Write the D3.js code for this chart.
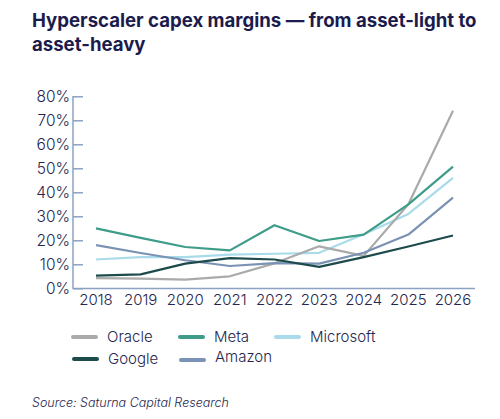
<!DOCTYPE html>
<html>
<head>
<meta charset="utf-8">
<script src="https://cdn.jsdelivr.net/npm/d3@7"></script>
<style>
  body { margin: 0; background: #fff; }
  svg text { font-family: Inter, "Noto Sans", sans-serif; fill: #25264f; }
</style>
</head>
<body>
<svg id="chart" width="500" height="419"></svg>
<script>
const years = [2018, 2019, 2020, 2021, 2022, 2023, 2024, 2025, 2026];
const oracle = [4.2, 4.0, 3.6, 5.0, 10.4, 17.5, 13.5, 35, 74];
const meta = [25, 21, 17.2, 15.8, 26.3, 19.7, 22.4, 35, 50.7];
const microsoft = [12, 13, 13, 14, 14.4, 14.8, 22.5, 31, 46];
const google = [5.3, 5.8, 10.3, 12.6, 12, 8.9, 13, 17.4, 22];
const amazon = [18, 14.7, 11.7, 9.3, 10.5, 10.3, 14.8, 22.4, 37.8];
const yTicks = [0, 10, 20, 30, 40, 50, 60, 70, 80];

const series = [
  { name: "Oracle", values: oracle, color: "#aaaaaa" },
  { name: "Meta", values: meta, color: "#3e9c88" },
  { name: "Microsoft", values: microsoft, color: "#a9dbea" },
  { name: "Google", values: google, color: "#1d4b4c" },
  { name: "Amazon", values: amazon, color: "#7a92b3" }
];
// draw order: light lines below
const drawOrder = ["Microsoft", "Oracle", "Amazon", "Google", "Meta"];

const svg = d3.select("#chart");

// title
const title = svg.append("g").attr("font-weight", 700).attr("font-size", 18.6);
title.append("text").attr("x", 32).attr("y", 27).style("fill", "#1b1c4d")
  .text("Hyperscaler capex margins \u2014 from asset-light to");
title.append("text").attr("x", 32).attr("y", 51).style("fill", "#1b1c4d")
  .text("asset-heavy");

const x = d3.scalePoint().domain(years).range([96, 453]);
const y = d3.scaleLinear().domain([0, 80]).range([288.3, 96.3]);

const axisColor = "#8da2c2";

// y axis with inward ticks
const yAxis = svg.append("g").attr("transform", "translate(73,0)")
  .call(d3.axisRight(y).tickValues(yTicks).tickSize(10).tickFormat(""));
yAxis.select(".domain").remove();
yAxis.selectAll(".tick line").attr("stroke", axisColor).attr("stroke-width", 1.5);

svg.append("line").attr("x1", 73).attr("x2", 73).attr("y1", 96).attr("y2", 289)
  .attr("stroke", axisColor).attr("stroke-width", 1.5);
svg.append("line").attr("x1", 73).attr("x2", 475).attr("y1", 288.5).attr("y2", 288.5)
  .attr("stroke", axisColor).attr("stroke-width", 1.5);

svg.append("g").selectAll("text").data(yTicks).join("text")
  .attr("x", 70).attr("y", d => y(d) + 5.5)
  .attr("text-anchor", "end").attr("font-size", 15.5).attr("font-weight", 300)
  .text(d => d + "%");

svg.append("g").selectAll("text").data(years).join("text")
  .attr("x", d => x(d)).attr("y", 305)
  .attr("text-anchor", "middle").attr("font-size", 15).attr("font-weight", 300)
  .text(d => d);

const line = d3.line().x((d, i) => x(years[i])).y(d => y(d));

svg.append("g").selectAll("path")
  .data(drawOrder.map(n => series.find(s => s.name === n)))
  .join("path")
  .attr("d", d => line(d.values))
  .attr("fill", "none")
  .attr("stroke", d => d.color)
  .attr("stroke-width", 2.2)
  .attr("stroke-linejoin", "round");

// legend
const legendPos = [
  [73, 337], [180, 337], [276, 337],
  [74, 359], [181, 360]
];
const legend = svg.append("g");
series.forEach((s, i) => {
  const [lx, ly] = legendPos[i];
  legend.append("line").attr("x1", lx).attr("x2", lx + 23).attr("y1", ly).attr("y2", ly)
    .attr("stroke", s.color).attr("stroke-width", 4).attr("stroke-linecap", "round");
  legend.append("text").attr("x", lx + 34).attr("y", ly + (i === 4 ? 2 : 5))
    .attr("font-size", 15).attr("font-weight", 300).text(s.name);
});

svg.append("text").attr("x", 32).attr("y", 407)
  .attr("font-size", 12.5).attr("font-style", "italic").attr("font-weight", 300)
  .text("Source: Saturna Capital Research");
</script>
</body>
</html>
